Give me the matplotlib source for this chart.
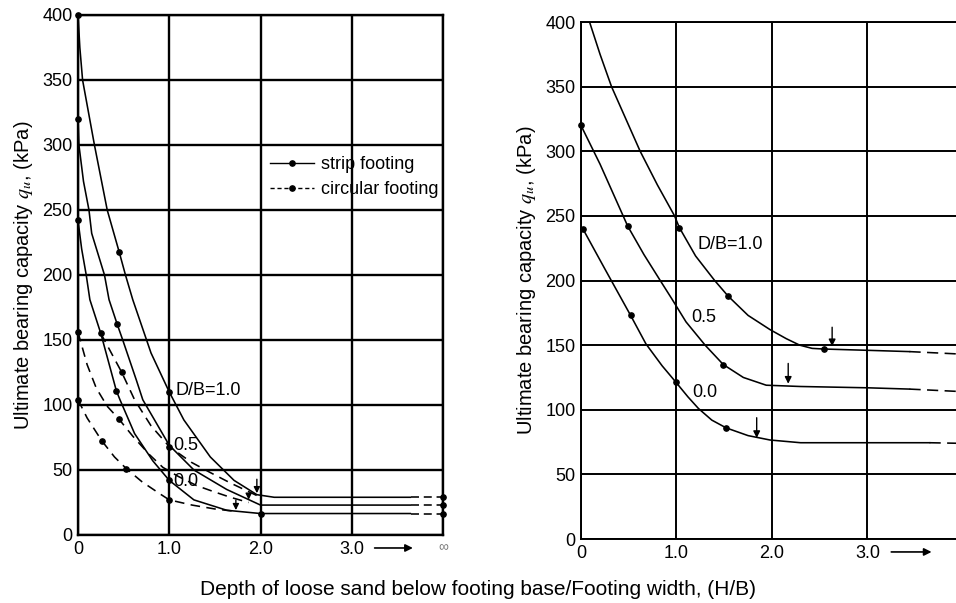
import matplotlib
matplotlib.use('Agg')
import matplotlib.pyplot as plt
from matplotlib.lines import Line2D

plt.rcParams['font.family'] = ['Liberation Sans', 'DejaVu Sans']
plt.rcParams['mathtext.fontset'] = 'stix'

# ---------------- data ----------------
x_ticks = [0, 1, 2, 3, 4]
x_ticklabels = ['0', '1.0', '2.0', '3.0', '\u221e']
y_ticks = [0, 50, 100, 150, 200, 250, 300, 350, 400]

# Left panel: strip footing (solid)
ls_10_x = [0, 0.02, 0.05, 0.18, 0.32, 0.45, 0.52, 0.6, 0.8, 1.0, 1.16, 1.45, 1.71, 1.96, 2.15, 3.65]
ls_10_y = [400, 375, 350, 300, 250, 218, 200, 181, 140, 110, 88.5, 60, 42, 31, 29, 29]
ls_05_x = [0, 0.01, 0.06, 0.12, 0.15, 0.29, 0.34, 0.43, 0.49, 0.64, 0.71, 1.0, 1.27, 1.63, 2.0, 3.65]
ls_05_y = [320, 300, 272, 250, 232, 200, 181, 162, 150, 119, 104, 69, 50, 35, 23, 23]
ls_00_x = [0, 0.04, 0.09, 0.13, 0.25, 0.42, 0.46, 0.62, 0.82, 1.0, 1.27, 1.63, 2.0, 3.65]
ls_00_y = [242, 220, 200, 181, 155, 111, 104, 78, 57, 42, 27, 19, 16.5, 16.5]
# Left panel: circular footing (dashed)
lc_10_x = [0.25, 0.48, 0.62, 0.8, 1.0, 1.24, 1.45, 1.67, 1.85, 1.97]
lc_10_y = [155, 125, 104, 84, 68, 56, 48, 40, 34, 30]
lc_05_x = [0, 0.1, 0.2, 0.32, 0.45, 0.6, 0.78, 0.93, 1.1, 1.3, 1.5, 1.67, 1.87]
lc_05_y = [156, 131, 113, 99, 89, 76, 62, 52, 45, 38, 33, 29, 25]
lc_00_x = [0, 0.1, 0.26, 0.4, 0.53, 0.7, 0.89, 1.0, 1.25, 1.5, 1.75]
lc_00_y = [104, 90, 72.5, 60, 51, 41, 32, 27, 23, 20, 18]
# tails to infinity (dashed)
l_tail_x = [3.65, 4.0]
l_tail_y = [29, 23, 16.5]
# marker points
l_pts_x = [0, 0.45, 1.0, 0, 0.43, 1.0, 0, 0.25, 0.42, 1.0, 2.0, 0.48, 0, 0.45, 0, 0.26, 0.53, 1.0, 4, 4, 4]
l_pts_y = [400, 218, 110, 320, 162, 68, 242, 155, 111, 42, 16, 125, 156, 89, 104, 72.5, 51, 27, 29, 23, 16.5]
# arrows (x, from y, to y)
l_arr_x = [1.96, 1.87, 1.73]
l_arr_y0 = [45, 34, 29]
l_arr_y1 = [30, 25, 17]
l_labels = ['D/B=1.0', '0.5', '0.0']
l_lab_x = [1.07, 1.04, 1.04]
l_lab_y = [111, 69, 41]

# Right panel
r_10_x = [0.09, 0.2, 0.32, 0.47, 0.62, 0.8, 0.98, 1.03, 1.2, 1.4, 1.54, 1.75, 1.98, 2.15, 2.29, 2.42, 2.54, 3.0, 3.44]
r_10_y = [400, 375, 350, 325, 300, 274, 250, 241, 219, 200, 188, 173, 162, 155, 150, 147.5, 147, 146, 145]
r_05_x = [0, 0.2, 0.49, 0.66, 0.83, 0.95, 1.1, 1.3, 1.49, 1.7, 1.94, 2.3, 3.0, 3.44]
r_05_y = [320, 290, 242, 220, 200, 186, 168, 150, 135, 125, 119, 118, 117, 116]
r_00_x = [0.02, 0.25, 0.43, 0.52, 0.68, 0.85, 0.99, 1.12, 1.23, 1.37, 1.52, 1.75, 1.98, 2.3, 3.0, 3.65]
r_00_y = [240, 209, 185, 173, 151, 134, 121.7, 110, 101, 92, 86, 80, 76.6, 74.5, 74.5, 74.5]
r_tail_x0 = [3.44, 3.44, 3.65]
r_tail_x1 = [4.0, 4.0, 4.0]
r_tail_y1 = [143, 114, 74]
r_pts_x = [1.03, 1.54, 2.54, 0, 0.49, 1.49, 0.02, 0.52, 0.99, 1.52]
r_pts_y = [241, 188, 147, 320, 242, 135, 240, 173, 121.7, 86]
r_arr_x = [2.63, 2.17, 1.84]
r_arr_y0 = [166, 138, 96]
r_arr_y1 = [147, 118, 76]
r_labels = ['D/B=1.0', '0.5', '0.0']
r_lab_x = [1.22, 1.16, 1.17]
r_lab_y = [228, 171, 113]

# ---------------- figure ----------------
fig = plt.figure(figsize=(9.56, 6.03), dpi=100)
axL = fig.add_axes([0.0816, 0.1128, 0.3818, 0.8624])
axR = fig.add_axes([0.6077, 0.1061, 0.3996, 0.8574])

FS = 13
lw_c = 1.15


def style_axes(ax, glw):
    ax.set_xlim(0, 4)
    ax.set_ylim(0, 400)
    ax.set_xticks(x_ticks)
    ax.set_xticklabels(x_ticklabels)
    ax.set_yticks(y_ticks)
    ax.tick_params(length=0, labelsize=FS, pad=4)
    ax.grid(True, color='black', linewidth=glw)
    ax.set_axisbelow(True)
    for s in ax.spines.values():
        s.set_linewidth(glw)
    ax.set_ylabel('Ultimate bearing capacity $q_u$, (kPa)', fontsize=14.5, labelpad=5)
    ax.annotate('', xy=(0.925, -0.025), xytext=(0.805, -0.025), xycoords='axes fraction',
                textcoords='axes fraction',
                arrowprops=dict(arrowstyle='-|>', color='black', lw=1.2, mutation_scale=11))


style_axes(axL, 1.7)
style_axes(axR, 1.4)
axR.spines['right'].set_visible(False)

for ax in (axL, axR):
    lab = ax.get_xticklabels()[-1]
    lab.set_color('#777777')
    lab.set_fontsize(10)

# Left curves
for xs, ys in ((ls_10_x, ls_10_y), (ls_05_x, ls_05_y), (ls_00_x, ls_00_y)):
    axL.plot(xs, ys, color='black', lw=lw_c, solid_capstyle='butt')
for xs, ys in ((lc_10_x, lc_10_y), (lc_05_x, lc_05_y), (lc_00_x, lc_00_y)):
    axL.plot(xs, ys, color='black', lw=lw_c, dashes=(6, 4))
for yv in l_tail_y:
    axL.plot(l_tail_x, [yv, yv], color='black', lw=lw_c, dashes=(5, 3))
axL.plot(l_pts_x, l_pts_y, 'o', color='black', ms=3.8, clip_on=False)
for xa, y0, y1 in zip(l_arr_x, l_arr_y0, l_arr_y1):
    axL.annotate('', xy=(xa, y1), xytext=(xa, y0),
                 arrowprops=dict(arrowstyle='-|>', color='black', lw=1.0, mutation_scale=9))
for t, xt, yt in zip(l_labels, l_lab_x, l_lab_y):
    axL.text(xt, yt, t, fontsize=FS, va='center', ha='left')

handles = [Line2D([], [], color='black', lw=1.0, marker='o', ms=3.8),
           Line2D([], [], color='black', lw=1.0, marker='o', ms=3.8, dashes=(3, 2))]
axL.legend(handles, ['strip footing', 'circular footing'], loc='upper left',
           bbox_to_anchor=(0.50, 0.746), frameon=False, fontsize=FS,
           handlelength=2.45, handletextpad=0.38, labelspacing=0.45, borderpad=0)

# Right curves
for xs, ys in ((r_10_x, r_10_y), (r_05_x, r_05_y), (r_00_x, r_00_y)):
    axR.plot(xs, ys, color='black', lw=lw_c)
for x0, x1, y0, y1 in zip(r_tail_x0, r_tail_x1, [r_10_y[-1], r_05_y[-1], r_00_y[-1]], r_tail_y1):
    axR.plot([x0, x1], [y0, y1], color='black', lw=lw_c, dashes=(7, 4))
axR.plot(r_pts_x, r_pts_y, 'o', color='black', ms=3.8, clip_on=False)
for xa, y0, y1 in zip(r_arr_x, r_arr_y0, r_arr_y1):
    axR.annotate('', xy=(xa, y1), xytext=(xa, y0),
                 arrowprops=dict(arrowstyle='-|>', color='black', lw=1.0, mutation_scale=10))
for t, xt, yt in zip(r_labels, r_lab_x, r_lab_y):
    axR.text(xt, yt, t, fontsize=FS, va='center', ha='left')

fig.text(0.5, 0.007, 'Depth of loose sand below footing base/Footing width, (H/B)',
         ha='center', va='bottom', fontsize=15)

fig.savefig('out.png', dpi=100)
